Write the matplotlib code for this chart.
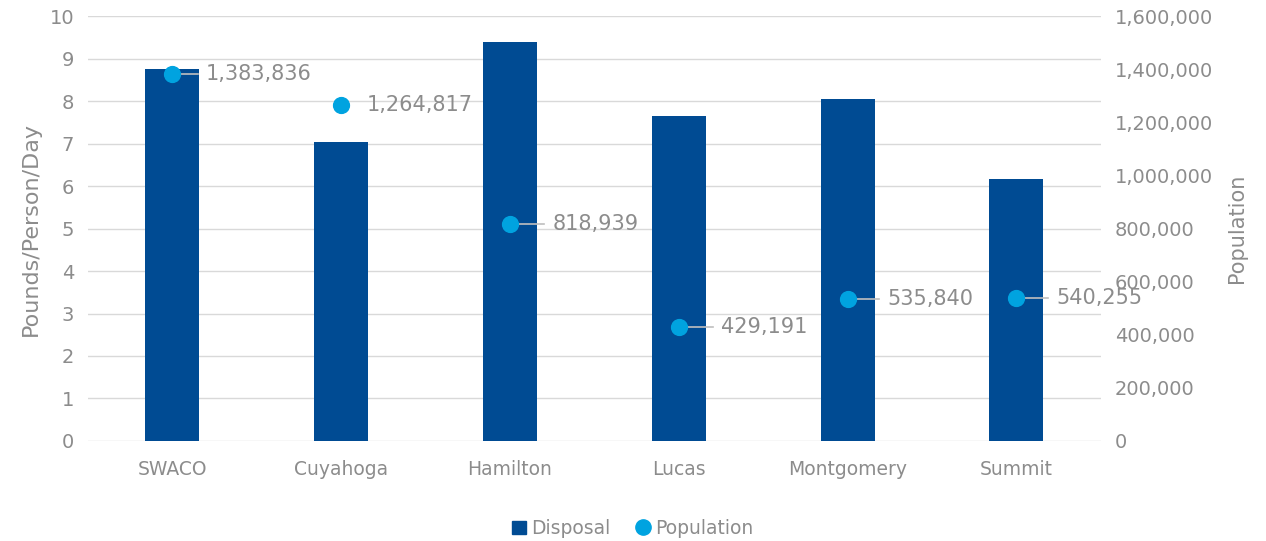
import matplotlib.pyplot as plt
from matplotlib.ticker import FuncFormatter
from matplotlib.lines import Line2D
from matplotlib.patches import Patch

counties = ["SWACO", "Cuyahoga", "Hamilton", "Lucas", "Montgomery", "Summit"]
disposal = [8.76, 7.03, 9.39, 7.65, 8.04, 6.16]
population = [1383836, 1264817, 818939, 429191, 535840, 540255]
# label offsets (x in category units), leader line drawn when True
label_dx = [0.2, 0.15, 0.25, 0.25, 0.235, 0.235]
leader = [True, False, True, True, True, True]

bar_col = "#004B93"
dot_col = "#00A3E0"
grey = "#8C8C8C"

plt.rcParams['font.family'] = ['DejaVu Sans']

fig = plt.figure(figsize=(12.66, 5.41), dpi=100)
ax = fig.add_axes([0.0695, 0.185, 0.8, 0.785])
ax2 = ax.twinx()

x = list(range(len(counties)))
ax.bar(x, disposal, width=0.32, color=bar_col, zorder=2)
ax.set_ylim(0, 10)
ax.set_yticks(range(0, 11))
ax.set_xlim(-0.5, 5.5)
ax.set_xticks(x)
ax.set_xticklabels(counties)
ax.grid(axis='y', color='#D9D9D9', lw=1, zorder=0)
ax.set_ylabel("Pounds/Person/Day", color=grey, fontsize=16, labelpad=6)

ax2.scatter(x, population, s=130, color=dot_col, zorder=4)
ax2.set_ylim(0, 1600000)
ax2.set_yticks(range(0, 1600001, 200000))
ax2.yaxis.set_major_formatter(FuncFormatter(lambda v, p: f"{int(v):,}"))
ax2.set_ylabel("Population", color=grey, fontsize=15, labelpad=10)

for i, p in enumerate(population):
    lx = i + label_dx[i]
    if leader[i]:
        ax2.plot([i, lx - 0.05], [p, p], color='#BFBFBF', lw=1.2, zorder=3)
    ax2.text(lx, p, f"{p:,}", color=grey, fontsize=15, va='center', ha='left', zorder=5)

for a in (ax, ax2):
    for s in a.spines.values():
        s.set_visible(False)
    a.tick_params(length=0, colors=grey, labelsize=14, pad=10)
ax.tick_params(axis='x', labelsize=13.5, pad=14)

handles = [Patch(color=bar_col, label="Disposal"),
           Line2D([], [], marker='o', ls='none', color=dot_col, markersize=11, label="Population")]
leg = fig.legend(handles=handles, loc='lower center', bbox_to_anchor=(0.5, -0.025),
                 ncol=2, frameon=False, fontsize=13.5, handlelength=0.7, handleheight=0.7,
                 handletextpad=0.3, columnspacing=1.4)
for t in leg.get_texts():
    t.set_color(grey)

fig.savefig("out.png", dpi=100)
